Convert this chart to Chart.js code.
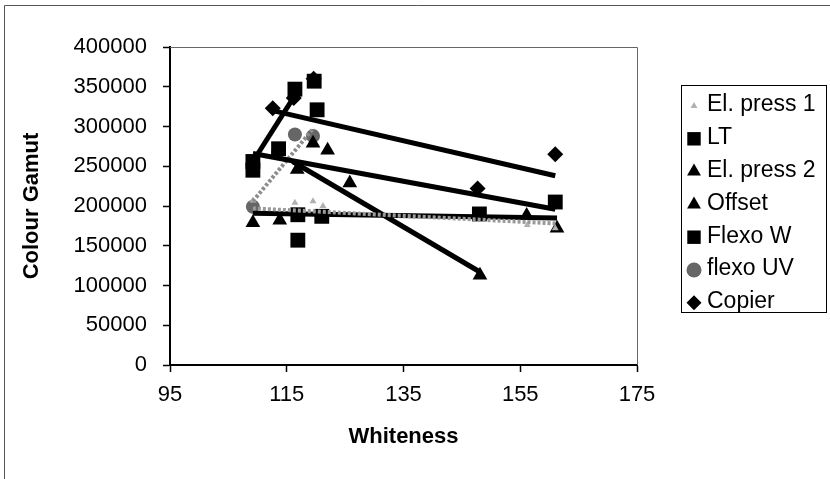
<!DOCTYPE html>
<html>
<head>
<meta charset="utf-8">
<script src="https://cdn.jsdelivr.net/npm/chart.js@4"></script>
<style>
  html, body { margin: 0; padding: 0; background: #fff; }
  #wrap { position: relative; width: 830px; height: 479px; }
</style>
</head>
<body>
<div id="wrap"><canvas id="chart" width="830" height="479"></canvas></div>
<script>
// -------------------- DATA --------------------
const xTicks = [95, 115, 135, 155, 175];
const yTicks = [0, 50000, 100000, 150000, 200000, 250000, 300000, 350000, 400000];

const seriesNames = ["El. press 1", "LT", "El. press 2", "Offset", "Flexo W", "flexo UV", "Copier"];

const elPress1X = [109.2, 116.4, 119.5, 121.2, 156.2, 161.0];
const elPress1Y = [207000, 204000, 206000, 200000, 176000, 172000];
const ltX = [109.2, 116.4, 119.7, 120.2];
const ltY = [256000, 347000, 357000, 321000];
const elPress2X = [109.2, 113.8, 156.1, 161.3];
const elPress2Y = [179000, 182000, 188000, 172000];
const offsetX = [116.8, 119.5, 122.0, 125.8, 148.1];
const offsetY = [246000, 279000, 270000, 229000, 113000];
const flexoWX = [109.2, 113.6, 116.9, 116.9, 121.0, 148.0, 161.0];
const flexoWY = [245000, 272000, 189000, 157000, 187000, 190000, 205000];
const flexoUVX = [109.2, 113.5, 116.4, 119.5];
const flexoUVY = [199000, 268000, 290000, 288000];
const copierX = [112.6, 116.2, 119.6, 147.7, 161.0];
const copierY = [323000, 336000, 360000, 222000, 265000];

// linear trendlines, end points
const trendElPress1X = [109.2, 161.3], trendElPress1Y = [197000, 178000];
const trendLtX = [109.2, 117.0], trendLtY = [256000, 346000];
const trendElPress2X = [109.2, 161.3], trendElPress2Y = [191000, 185000];
const trendOffsetX = [116.0, 148.1], trendOffsetY = [256000, 117000];
const trendFlexoWX = [109.2, 161.0], trendFlexoWY = [266000, 196000];
const trendFlexoUVX = [109.2, 119.6], trendFlexoUVY = [206000, 298000];
const trendCopierX = [112.6, 161.0], trendCopierY = [320000, 238000];

// -------------------- HELPERS --------------------
const FONT = "'Liberation Sans', Arial, sans-serif";
const pts = (xs, ys) => xs.map((x, i) => ({ x, y: ys[i] }));

const styles = [
  { style: "triangle", radius: 4, color: "#b0b0b0" },
  { style: "rect", radius: 10.5, color: "#000" },
  { style: "triangle", radius: 8.5, color: "#000" },
  { style: "triangle", radius: 8.5, color: "#000" },
  { style: "rect", radius: 10.5, color: "#000" },
  { style: "circle", radius: 7, color: "#666" },
  { style: "rectRot", radius: 8, color: "#000" },
];

const markerSets = [
  pts(elPress1X, elPress1Y), pts(ltX, ltY), pts(elPress2X, elPress2Y), pts(offsetX, offsetY),
  pts(flexoWX, flexoWY), pts(flexoUVX, flexoUVY), pts(copierX, copierY),
];

const trendSets = [
  { d: pts(trendElPress1X, trendElPress1Y), color: "#9a9a9a", width: 4, dash: [3, 2] },
  { d: pts(trendLtX, trendLtY), color: "#000", width: 5 },
  { d: pts(trendElPress2X, trendElPress2Y), color: "#000", width: 5 },
  { d: pts(trendOffsetX, trendOffsetY), color: "#000", width: 5 },
  { d: pts(trendFlexoWX, trendFlexoWY), color: "#000", width: 5 },
  { d: pts(trendFlexoUVX, trendFlexoUVY), color: "#8c8c8c", width: 4, dash: [3, 2] },
  { d: pts(trendCopierX, trendCopierY), color: "#000", width: 5 },
];

const datasets = [];
markerSets.forEach((data, i) => {
  const s = styles[i];
  datasets.push({
    label: seriesNames[i],
    data,
    pointStyle: s.style,
    pointRadius: s.radius,
    backgroundColor: s.color,
    borderColor: s.color,
    borderWidth: 0,
    showLine: false,
    order: 2,
  });
});
trendSets.forEach((t, i) => {
  datasets.push({
    label: seriesNames[i] + " trend",
    data: t.d,
    showLine: true,
    pointRadius: 0,
    borderColor: t.color,
    borderWidth: t.width,
    borderDash: t.dash || [],
    borderCapStyle: "butt",
    fill: false,
    order: 1,
  });
});

// small marker drawer for the legend
function drawMarker(ctx, style, r, x, y, color) {
  ctx.save();
  ctx.fillStyle = color;
  ctx.beginPath();
  if (style === "rect") {
    const s = Math.SQRT1_2 * r;
    ctx.rect(x - s, y - s, 2 * s, 2 * s);
  } else if (style === "rectRot") {
    ctx.moveTo(x - r, y); ctx.lineTo(x, y - r); ctx.lineTo(x + r, y); ctx.lineTo(x, y + r);
    ctx.closePath();
  } else if (style === "triangle") {
    ctx.moveTo(x, y - r);
    ctx.lineTo(x + r * 0.866, y + r * 0.5);
    ctx.lineTo(x - r * 0.866, y + r * 0.5);
    ctx.closePath();
  } else {
    ctx.arc(x, y, r, 0, Math.PI * 2);
  }
  ctx.fill();
  ctx.restore();
}

// -------------------- PLUGINS --------------------
const frame = {
  id: "frame",
  beforeDraw(chart) {
    const { ctx } = chart;
    ctx.save();
    ctx.fillStyle = "#fff";
    ctx.fillRect(0, 0, chart.width, chart.height);
    ctx.strokeStyle = "#555";
    ctx.lineWidth = 1;
    ctx.beginPath();
    ctx.moveTo(4.5, 479); ctx.lineTo(4.5, 5.5); ctx.lineTo(830, 5.5);
    ctx.stroke();
    ctx.restore();
  },
  afterDraw(chart) {
    const { ctx, chartArea: a } = chart;
    ctx.save();
    ctx.strokeStyle = "#666";
    ctx.lineWidth = 1;
    ctx.beginPath();
    ctx.moveTo(a.left, a.top + 0.5); ctx.lineTo(a.right + 0.5, a.top + 0.5); ctx.lineTo(a.right + 0.5, a.bottom);
    ctx.stroke();

    // legend box
    ctx.strokeStyle = "#000";
    ctx.strokeRect(681.5, 85.5, 145, 227);
    ctx.font = "23px " + FONT;
    ctx.textBaseline = "middle";
    ctx.fillStyle = "#000";
    seriesNames.forEach((name, i) => {
      const y = 105 + i * 32.8;
      const s = styles[i];
      const r = s.style === "rect" ? 9.5 : s.style === "triangle" ? (i === 0 ? 4 : 8) : 7.5;
      drawMarker(ctx, s.style, r, 694, y + 1, s.color);
      ctx.fillText(name, 707, y);
    });
    ctx.restore();
  },
};

// -------------------- CHART --------------------
const ctx = document.getElementById("chart").getContext("2d");
new Chart(ctx, {
  type: "scatter",
  data: { datasets },
  options: {
    responsive: false,
    animation: false,
    events: [],
    layout: { padding: { top: 47, right: 193, left: 0, bottom: 0 } },
    plugins: { legend: { display: false }, tooltip: { enabled: false } },
    scales: {
      x: {
        type: "linear",
        min: xTicks[0],
        max: xTicks[xTicks.length - 1],
        afterBuildTicks: (scale) => { scale.ticks = xTicks.map((v) => ({ value: v })); },
        afterFit: (scale) => { scale.height = 114; },
        ticks: { color: "#000", font: { family: FONT, size: 22 }, padding: 10, maxRotation: 0 },
        grid: { display: true, drawOnChartArea: false, drawTicks: true, tickLength: 7, color: "#000", tickWidth: 1.5 },
        border: { display: true, color: "#000", width: 2 },
        title: {
          display: true, text: "Whiteness", color: "#000",
          font: { family: FONT, size: 22, weight: "bold" },
          padding: { top: 0, bottom: 29 },
        },
      },
      y: {
        type: "linear",
        min: yTicks[0],
        max: yTicks[yTicks.length - 1],
        afterBuildTicks: (scale) => { scale.ticks = yTicks.map((v) => ({ value: v })); },
        afterFit: (scale) => { scale.width = 170; },
        ticks: { color: "#000", font: { family: FONT, size: 22 }, padding: 16, callback: (v) => String(v) },
        grid: { display: true, drawOnChartArea: false, drawTicks: true, tickLength: 7, color: "#000", tickWidth: 1.5 },
        border: { display: true, color: "#000", width: 2 },
        title: {
          display: true, text: "Colour Gamut", color: "#000",
          font: { family: FONT, size: 22, weight: "bold" },
          padding: { top: 19, bottom: 0 },
        },
      },
    },
  },
  plugins: [frame],
});
</script>
</body>
</html>
